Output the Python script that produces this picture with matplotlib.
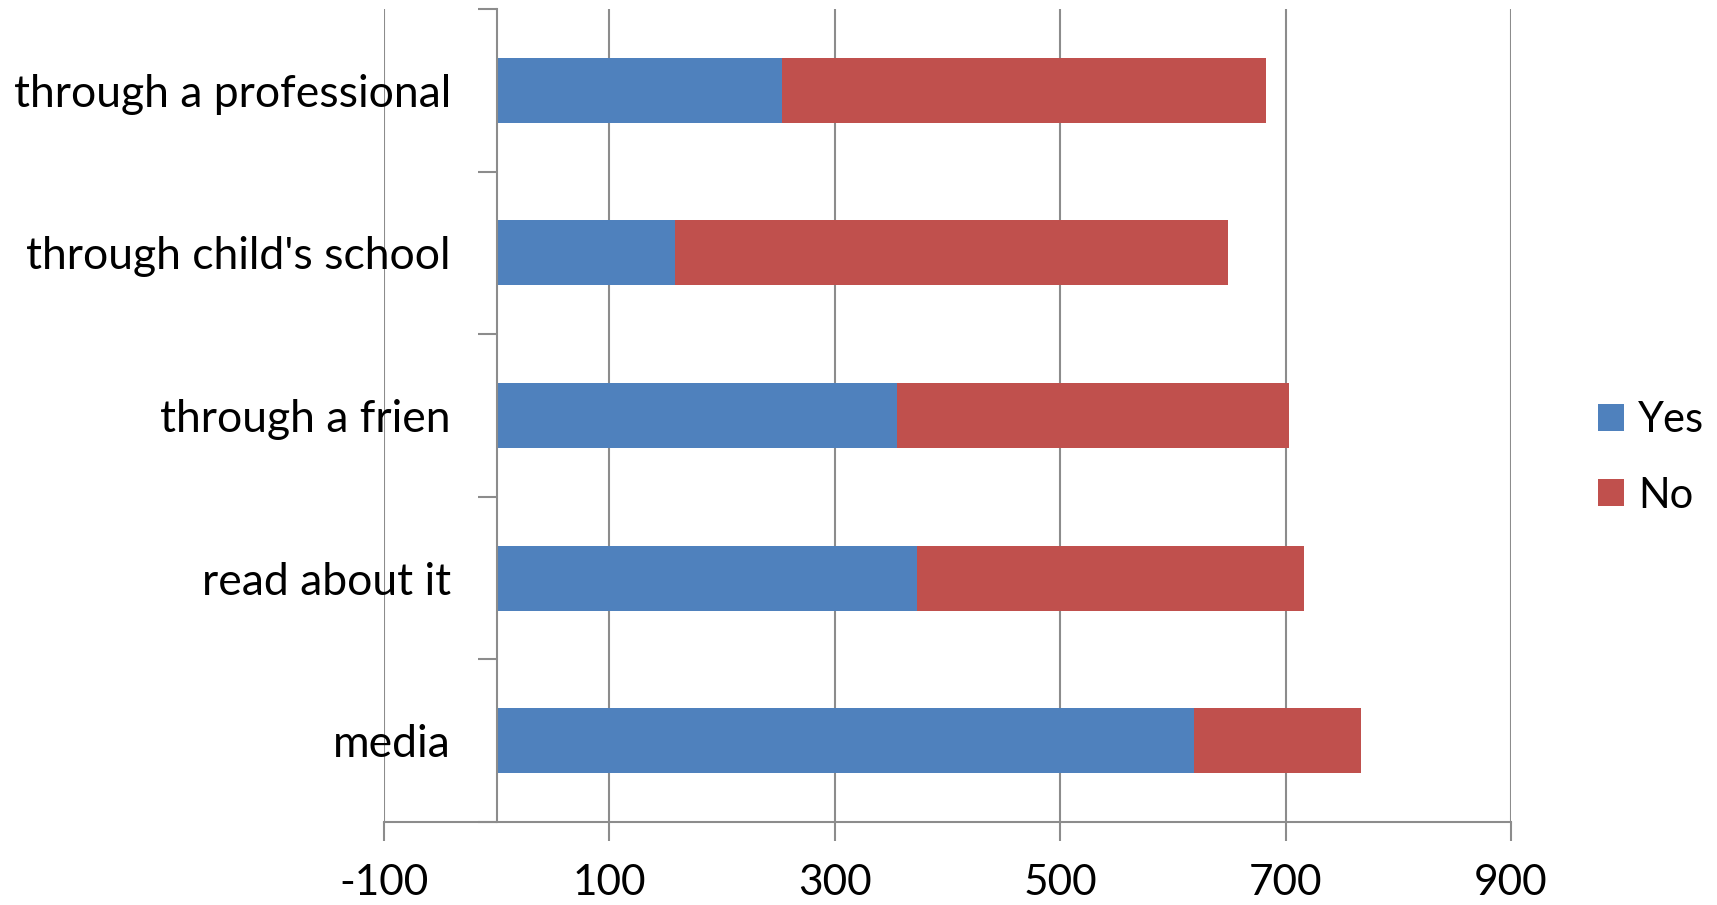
import numpy as np
import matplotlib.pyplot as plt

plt.rcParams['font.family'] = ['Lato', 'DejaVu Sans']

# data (bottom to top, as drawn)
categories = ['media', 'read about it', 'through a frien',
              "through child's school", 'through a professional']
yes_vals = [619, 373, 355, 158, 253]
no_vals = [148, 343, 348, 491, 430]
xticks = [-100, 100, 300, 500, 700, 900]

BLUE = '#4f81bd'
RED = '#c0504d'
GRID = '#8c8c8c'

fig = plt.figure(figsize=(17.17, 9.05), dpi=100)
ax = fig.add_axes([0.2236, 0.0917, 0.880 - 0.2236, 0.990 - 0.0917])

y = np.arange(len(categories))
ax.barh(y, yes_vals, height=0.4, color=BLUE, label='Yes', zorder=3)
ax.barh(y, no_vals, left=yes_vals, height=0.4, color=RED, label='No', zorder=3)

ax.set_xlim(-100, 900)
ax.set_ylim(-0.5, len(categories) - 0.5)
ax.set_xticks(xticks)
ax.set_xticklabels([str(t) for t in xticks], fontsize=30.5)
ax.xaxis.grid(True, color=GRID, linewidth=1.5, zorder=0)

# category axis sits at x = 0, ticks between categories
ax.spines['left'].set_position(('data', 0))
ax.spines['left'].set_color(GRID)
ax.spines['left'].set_linewidth(1.5)
ax.spines['left'].set_zorder(4)
ax.set_yticks(np.arange(len(categories) + 1) - 0.5)
ax.set_yticklabels([])
ax.set_yticks(y, minor=True)
ax.set_yticklabels(categories, minor=True, fontsize=32)
ax.tick_params(axis='y', which='major', length=14, width=1.5, color=GRID)
ax.tick_params(axis='y', which='minor', length=0, pad=33)

for s in ['top', 'right']:
    ax.spines[s].set_visible(False)
ax.spines['bottom'].set_color(GRID)
ax.spines['bottom'].set_linewidth(1.5)
ax.tick_params(axis='x', length=14, width=1.5, color=GRID, pad=16)

ax.legend(loc='center left', bbox_to_anchor=(1.077, 0.448), frameon=False,
          fontsize=30, handlelength=0.62, handleheight=0.62,
          handletextpad=0.35, labelspacing=0.9,
          borderpad=0, borderaxespad=0)

fig.savefig('out.png', dpi=100)
